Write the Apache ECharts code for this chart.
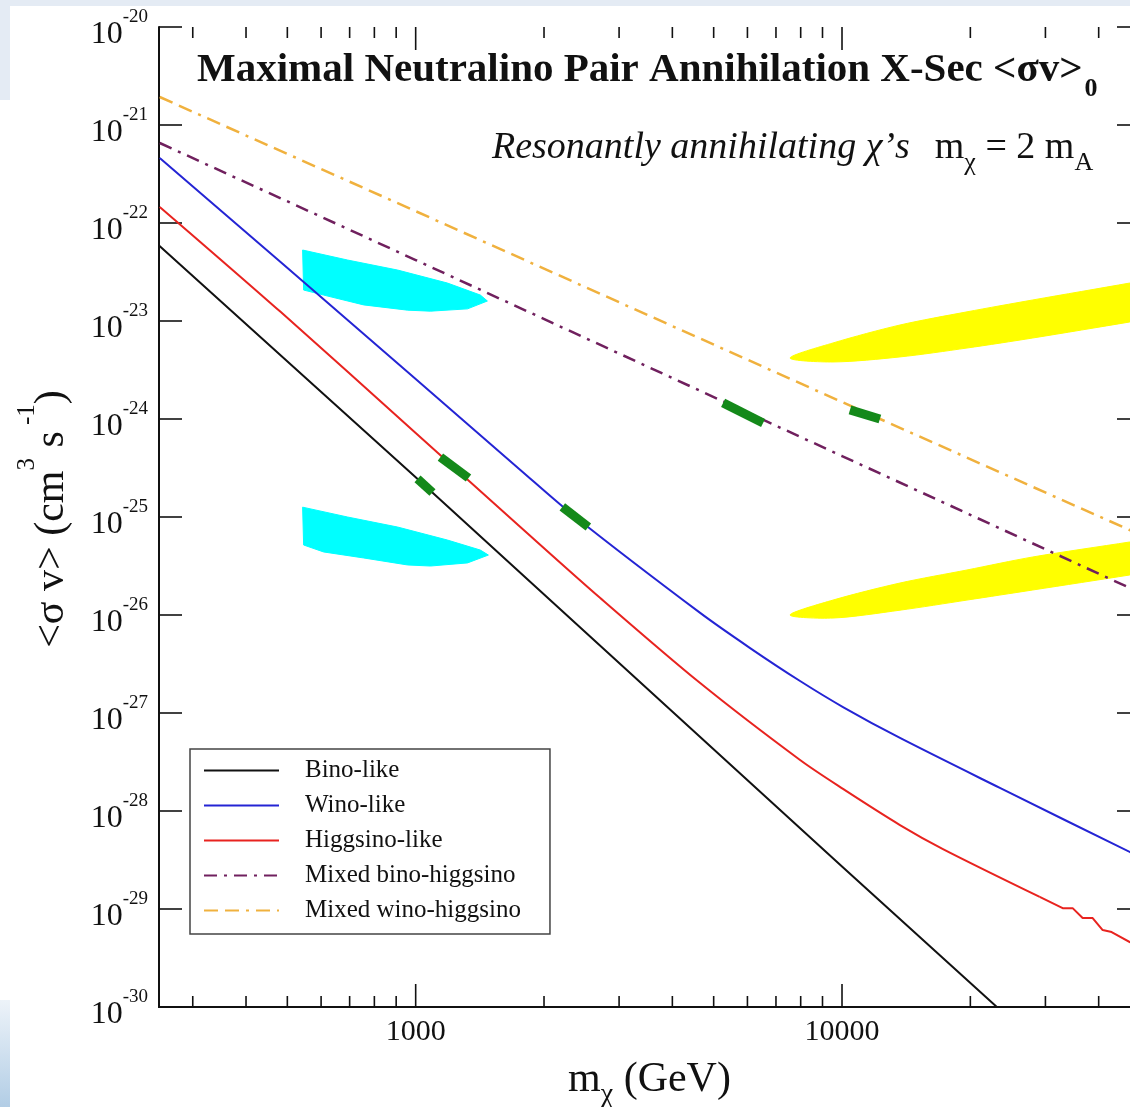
<!DOCTYPE html>
<html>
<head>
<meta charset="utf-8">
<script src="https://cdn.jsdelivr.net/npm/echarts@6/dist/echarts.min.js"></script>
<style>
  html, body { margin: 0; padding: 0; background: #ffffff; }
  #chart { width: 1130px; height: 1107px; }
</style>
</head>
<body>
<div id="chart"></div>
<script>
// ---------- axes ----------
const massRange = [250, 50000];          // m_chi (GeV)
const sigmaRange = [1e-30, 1e-20];       // <sigma v> (cm^3 s^-1)
const massMajorTicks = [1000, 10000];
const massMinorTicks = [300, 400, 500, 600, 700, 800, 900,
  2000, 3000, 4000, 5000, 6000, 7000, 8000, 9000, 20000, 30000, 40000];
const sigmaTicks = [1e-30, 1e-29, 1e-28, 1e-27, 1e-26, 1e-25, 1e-24, 1e-23, 1e-22, 1e-21, 1e-20];

// ---------- curves: [m_chi, <sigma v>] ----------
const binoLike = [[250, 5.9e-23], [1000, 2.54e-25], [10000, 2.72e-29], [23080, 1e-30], [30000, 3.5e-31]];
const winoLike = [[251, 4.6e-22], [482, 4.0e-23], [1000, 2.56e-24], [1760, 3.02e-25], [2368, 1.0e-25],
  [4648, 1.05e-26], [6087, 4.6e-27], [7973, 2.12e-27], [10054, 1.15e-27], [13677, 5.56e-28],
  [23460, 1.72e-28], [47300, 3.82e-29], [50000, 3.4e-29]];
const higgsinoLike = [[251, 1.46e-22], [482, 1.24e-23], [1000, 7.19e-25], [1760, 7.91e-26], [2710, 1.49e-26],
  [4648, 2.02e-27], [7973, 3.31e-28], [10054, 1.68e-28], [13677, 7.19e-29], [17250, 4.09e-29],
  [29090, 1.33e-29]];
const higgsinoTail = [[29090, 1.33e-29], [32930, 1.02e-29], [34750, 1.02e-29], [36680, 8.09e-30], [38720, 8.09e-30],
  [40870, 6.1e-30], [42900, 5.82e-30], [47300, 4.6e-30], [50000, 4.0e-30]];
const mixedBinoHiggsino = [[251, 6.55e-22], [1000, 4.19e-23], [10000, 4.19e-25], [47300, 1.89e-26], [50000, 1.7e-26]];
const mixedWinoHiggsino = [[251, 1.93e-21], [1000, 1.32e-22], [10000, 1.49e-24], [47300, 7.36e-26], [50000, 6.6e-26]];

// ---------- thick green stretches on the curves ----------
const greenOnBino = [[1010, 2.45e-25], [1095, 1.78e-25]];
const greenOnHiggsino = [[1143, 4.09e-25], [1330, 2.5e-25]];
const greenOnWino = [[2208, 1.27e-25], [2541, 7.91e-26]];
const greenOnBinoHiggsino = [[5262, 1.46e-24], [6529, 9.1e-25]];
const greenOnWinoHiggsino = [[10440, 1.24e-24], [12270, 1.0e-24]];

// ---------- shaded regions (polygon outlines) ----------
const cyanUpper = [[543, 5.3e-23], [692, 4.19e-23], [907, 3.31e-23], [1187, 2.44e-23], [1418, 1.84e-23],
  [1473, 1.6e-23], [1323, 1.33e-23], [1083, 1.26e-23], [957, 1.29e-23], [755, 1.46e-23],
  [608, 1.84e-23], [546, 2.07e-23]];
const cyanLower = [[543, 1.26e-25], [692, 1.0e-25], [907, 7.9e-26], [1187, 5.82e-26], [1418, 4.6e-26],
  [1481, 4.09e-26], [1323, 3.4e-26], [1083, 3.16e-26], [957, 3.24e-26], [755, 3.82e-26],
  [608, 4.4e-26], [546, 5.18e-26]];
const yellowUpper = [[7554, 4.19e-24], [9526, 5.97e-24], [13677, 9.1e-24], [19640, 1.24e-23], [28030, 1.64e-23],
  [47300, 2.44e-23], [51290, 2.62e-23], [51290, 1.04e-23], [47300, 9.77e-24], [28030, 6.71e-24],
  [19640, 5.3e-24], [13677, 4.3e-24], [9526, 3.82e-24]];
const yellowLower = [[7554, 1.0e-26], [9526, 1.42e-26], [13677, 2.12e-26], [19640, 2.88e-26], [28030, 3.91e-26],
  [47300, 5.56e-26], [51290, 5.89e-26], [51290, 2.72e-26], [47300, 2.56e-26], [28030, 1.8e-26],
  [19640, 1.42e-26], [13677, 1.12e-26], [9526, 9.31e-27]];

const legendNames = ['Bino-like', 'Wino-like', 'Higgsino-like', 'Mixed bino-higgsino', 'Mixed wino-higgsino'];

const SERIF = '"Liberation Serif", "Times New Roman", serif';
const GREEN = '#14891a';
const RED = '#e8231f';

function isDecade(v) {
  const l = Math.log10(v);
  return Math.abs(l - Math.round(l)) < 1e-6;
}

function curve(name, data, color, width, dash, smooth) {
  const s = {
    type: 'line', data: data, symbol: 'none', clip: true, silent: true,
    smooth: smooth || false,
    lineStyle: { color: color, width: width, type: dash || 'solid', cap: 'butt' },
    itemStyle: { color: color }, z: 3
  };
  if (name) s.name = name;
  return s;
}

function greenStretch(data) {
  return {
    type: 'line', data: data, symbol: 'none', clip: true, silent: true,
    lineStyle: { color: GREEN, width: 9, cap: 'butt' }, z: 4
  };
}

function region(points, color, smooth) {
  return {
    type: 'custom', data: [points[0]], clip: true, silent: true, z: 1,
    renderItem: function (params, api) {
      return {
        type: 'polygon',
        shape: { points: points.map(function (p) { return api.coord(p); }), smooth: smooth || 0 },
        style: { fill: color, stroke: color, lineWidth: 1 }
      };
    }
  };
}

function massTicks(values, len) {
  return {
    type: 'custom', silent: true, z: 5, clip: false,
    data: values.map(function (m) { return [m, 1e-25]; }),
    renderItem: function (params, api) {
      const m = api.value(0);
      const b = api.coord([m, sigmaRange[0]]);
      const t = api.coord([m, sigmaRange[1]]);
      const st = { stroke: '#111', lineWidth: 1.6 };
      return {
        type: 'group',
        children: [
          { type: 'line', shape: { x1: b[0], y1: b[1], x2: b[0], y2: b[1] - len }, style: st },
          { type: 'line', shape: { x1: t[0], y1: t[1], x2: t[0], y2: t[1] + len }, style: st }
        ]
      };
    }
  };
}

const chart = echarts.init(document.getElementById('chart'), null, { renderer: 'canvas' });

const axisLineStyle = { color: '#111', width: 2 };
const sigmaTickStyle = { show: true, inside: true, length: 23, customValues: sigmaTicks, lineStyle: { color: '#111', width: 1.6 } };

chart.setOption({
  backgroundColor: '#ffffff',
  animation: false,
  grid: { left: 159, top: 27, right: -10, bottom: 100, containLabel: false, outerBoundsMode: 'none' },
  xAxis: [
    {
      type: 'log', logBase: 10, min: massRange[0], max: massRange[1], position: 'bottom',
      axisLine: { show: true, lineStyle: axisLineStyle },
      axisTick: { show: false }, splitLine: { show: false }, minorTick: { show: false },
      axisLabel: {
        show: true, margin: 10, color: '#111', fontFamily: SERIF, fontSize: 30,
        formatter: function (v) { return isDecade(v) ? String(Math.round(v)) : ''; }
      },
      name: '{a|m}{s|χ}{a| (GeV)}', nameLocation: 'middle', nameGap: 44,
      nameTextStyle: {
        color: '#111', fontFamily: SERIF,
        rich: {
          a: { fontFamily: SERIF, fontSize: 42, color: '#111' },
          s: { fontFamily: SERIF, fontSize: 28, color: '#111', padding: [30, 0, 0, 0] }
        }
      }
    },
    {
      type: 'log', logBase: 10, min: massRange[0], max: massRange[1], position: 'top',
      axisLine: { show: true, lineStyle: axisLineStyle },
      axisTick: { show: false }, axisLabel: { show: false }, splitLine: { show: false }
    }
  ],
  yAxis: [
    {
      type: 'log', logBase: 10, min: sigmaRange[0], max: sigmaRange[1], splitNumber: 10, position: 'left',
      axisLine: { show: true, lineStyle: axisLineStyle },
      axisTick: sigmaTickStyle,
      splitLine: { show: false },
      axisLabel: {
        show: true, margin: 11, color: '#111', fontFamily: SERIF,
        customValues: sigmaTicks, showMinLabel: true, showMaxLabel: true, hideOverlap: false,
        formatter: function (v) { return '{b|10}{e|' + Math.round(Math.log10(v)) + '}'; },
        rich: {
          b: { fontFamily: SERIF, fontSize: 32, color: '#111', padding: [16, 0, 0, 0] },
          e: { fontFamily: SERIF, fontSize: 19, color: '#111', padding: [0, 0, 20, 0] }
        }
      }
    },
    {
      type: 'log', logBase: 10, min: sigmaRange[0], max: sigmaRange[1], splitNumber: 10, position: 'right',
      axisLine: { show: true, lineStyle: axisLineStyle },
      axisTick: sigmaTickStyle,
      axisLabel: { show: false }, splitLine: { show: false }
    }
  ],
  legend: {
    data: legendNames, orient: 'vertical', left: 190, top: 749,
    itemWidth: 75, itemHeight: 14, itemGap: 10,
    padding: [9, 29, 11, 13],
    borderColor: '#444', borderWidth: 1.5, backgroundColor: '#ffffff',
    selectedMode: false,
    itemStyle: { opacity: 0, borderWidth: 0 },
    textStyle: { fontFamily: SERIF, fontSize: 25, color: '#111', lineHeight: 24, padding: [0, 0, 0, 21] }
  },
  graphic: [
    { type: 'rect', shape: { x: 0, y: 0, width: 1130, height: 6 }, style: { fill: '#e4ebf4' }, z: -10, silent: true },
    { type: 'rect', shape: { x: 0, y: 0, width: 10, height: 100 }, style: { fill: '#e4ebf4' }, z: -10, silent: true },
    {
      type: 'rect', shape: { x: 0, y: 1000, width: 10, height: 107 }, z: -10, silent: true,
      style: {
        fill: new echarts.graphic.LinearGradient(0, 0, 0, 1, [
          { offset: 0, color: '#edf3f9' }, { offset: 1, color: '#b2cde5' }
        ])
      }
    },
    {
      type: 'text', x: 197, y: 70, silent: true, z: 10,
      style: {
        text: '{t|Maximal Neutralino Pair Annihilation X-Sec <σv>}{s|0}',
        align: 'left', verticalAlign: 'middle',
        rich: {
          t: { fontFamily: SERIF, fontWeight: 'bold', fontSize: 41, fill: '#111' },
          s: { fontFamily: SERIF, fontWeight: 'bold', fontSize: 26, fill: '#111', padding: [38, 0, 0, 2] }
        }
      }
    },
    {
      type: 'text', x: 492, y: 148, silent: true, z: 10,
      style: {
        text: '{i|Resonantly annihilating χ’s}{g|  m}{s|χ}{a| = 2 m}{s|A}',
        align: 'left', verticalAlign: 'middle',
        rich: {
          i: { fontFamily: SERIF, fontStyle: 'italic', fontSize: 38, fill: '#111' },
          g: { fontFamily: SERIF, fontSize: 38, fill: '#111', padding: [0, 0, 0, 6] },
          a: { fontFamily: SERIF, fontSize: 38, fill: '#111' },
          s: { fontFamily: SERIF, fontSize: 26, fill: '#111', padding: [30, 0, 0, 0] }
        }
      }
    },
    {
      // vertical axis title
      type: 'text', x: 52, y: 519, rotation: Math.PI / 2, silent: true, z: 10,
      style: {
        text: '{a|<σ v> (cm}{p|3}{a| s}{p| -1}{a|)}',
        align: 'center', verticalAlign: 'middle',
        rich: {
          a: { fontFamily: SERIF, fontSize: 42, fill: '#111' },
          p: { fontFamily: SERIF, fontSize: 25, fill: '#111', padding: [0, 0, 50, 0] }
        }
      }
    }
  ],
  series: [
    region(cyanUpper, '#00ffff'),
    region(cyanLower, '#00ffff'),
    region(yellowUpper, '#ffff00', 0.3),
    region(yellowLower, '#ffff00', 0.3),
    curve('Bino-like', binoLike, '#111111', 2),
    curve('Wino-like', winoLike, '#2424d4', 2, null, 0.3),
    curve('Higgsino-like', higgsinoLike, RED, 2, null, 0.3),
    curve(null, higgsinoTail, RED, 2),
    curve('Mixed bino-higgsino', mixedBinoHiggsino, '#70205e', 2.5, [13, 7, 3, 7]),
    curve('Mixed wino-higgsino', mixedWinoHiggsino, '#f0b13e', 2.5, [14, 7, 14, 7, 3, 7]),
    greenStretch(greenOnBino),
    greenStretch(greenOnHiggsino),
    greenStretch(greenOnWino),
    greenStretch(greenOnBinoHiggsino),
    greenStretch(greenOnWinoHiggsino),
    massTicks(massMajorTicks, 23),
    massTicks(massMinorTicks, 11)
  ]
});
</script>
</body>
</html>
